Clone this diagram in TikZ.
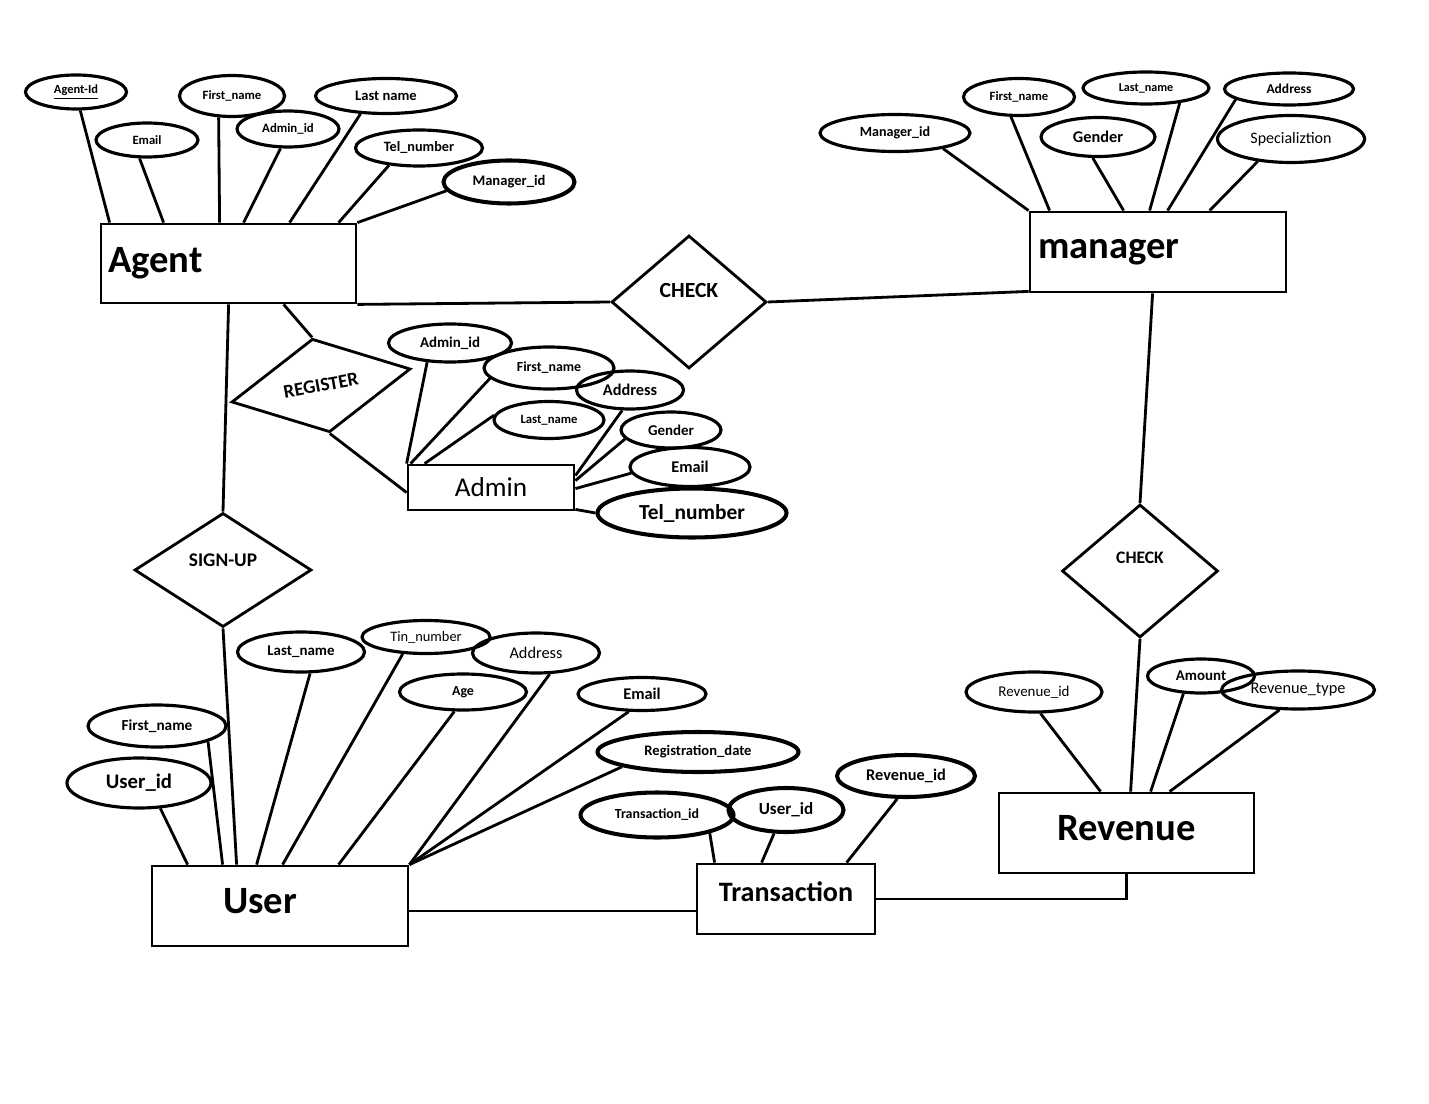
\documentclass[tikz,border=0pt]{standalone}
\usepackage{fontspec}
\setmainfont{Carlito}
\usetikzlibrary{shapes.geometric,calc}
\newcommand{\fsz}[1]{\fontsize{#1}{#1}\selectfont}
\tikzset{sz/.style 2 args={minimum width=#1*0.02cm,minimum height=#2*0.02cm}}
\begin{document}
\begin{tikzpicture}[x=0.02cm,y=-0.02cm,line width=1.6pt]
    \tikzstyle{attr}=[ellipse,draw,line width=1.8pt,inner sep=0pt,font=\bfseries]
    \tikzstyle{attrb}=[attr,line width=2.3pt]
    \tikzstyle{entity}=[rectangle,draw,inner sep=0pt,font=\bfseries]
    \tikzstyle{rel}=[diamond,draw,inner sep=0pt,font=\bfseries]
    \useasboundingbox (0,0) rectangle (1429,1104);
    % entities
    \node[entity,sz={255}{79},align=left,inner xsep=0.14cm,text width=4.82cm] (agent) at (228.5,263.5) {\fsz{22}Agent};
    \node[entity,sz={256}{80},align=left,inner xsep=0.16cm,text width=4.8cm] (manager) at (1158,252) {\fsz{22}manager};
    \node[entity,sz={256}{80},align=left,inner xsep=1.42cm,text width=2.28cm,text depth=5.7pt] (user) at (280,906) {\fsz{22}User};
    \node[entity,sz={255}{80},text depth=5.7pt] (revenue) at (1126.5,833) {\fsz{22}Revenue};
    \node[entity,sz={178}{70},text depth=8pt] (trans) at (786,899) {\fsz{16}Transaction};
    \node[entity,sz={166}{45},font=\mdseries] (admin) at (491,487.5) {\fsz{15.5}Admin};
    % relationships
    \node[rel,sz={155}{133},text depth=13.6pt] (check1) at (689,302) {\fsz{12.3}CHECK};
    \node[rel,sz={156}{133},text depth=14.7pt] (check2) at (1140,571) {\fsz{10}CHECK};
    \node[rel,sz={177}{114},text depth=11.3pt] (signup) at (223,570) {\fsz{11}SIGN-UP};
    \node[rel,sz={182}{95},rotate=10.5] (register) at (321,385.5) {\fsz{10.9}REGISTER};
    % agent attributes
    \node[attr,sz={101}{34}] (agid) at (76,92) {\fsz{7.1}\underline{Agent-Id}};
    \node[attr,sz={102}{34}] (agemail) at (147,140) {\fsz{7.2}Email};
    \node[attr,sz={105}{41}] (agfname) at (232,96) {\fsz{7.2}First\_name};
    \node[attr,sz={102}{36}] (agadmin) at (288,129) {\fsz{7.3}Admin\_id};
    \node[attr,sz={141}{35}] (aglname) at (386,96) {\fsz{8.3}Last name};
    \node[attr,sz={127}{36}] (agtel) at (419,148) {\fsz{8.1}Tel\_number};
    \node[attrb,sz={131}{43}] (agmgr) at (509,182) {\fsz{8.3}Manager\_id};
    % manager attributes
    \node[attr,sz={150}{37}] (mgid) at (895,133) {\fsz{8}Manager\_id};
    \node[attr,sz={111}{37}] (mgfname) at (1019,97) {\fsz{7.2}First\_name};
    \node[attr,sz={126}{32}] (mglname) at (1146,88) {\fsz{6.9}Last\_name};
    \node[attr,sz={129}{32}] (mgaddr) at (1289,89) {\fsz{7.7}Address};
    \node[attr,sz={114}{39}] (mggender) at (1098,137) {\fsz{9.3}Gender};
    \node[attr,sz={147}{47}] (mgspec) at (1291,139) {\fsz{9.1}\mdseries Specializtion};
    % admin attributes
    \node[attr,sz={123}{38}] (adid) at (450,343) {\fsz{8.5}Admin\_id};
    \node[attr,sz={130}{42}] (adfname) at (549,368) {\fsz{7.9}First\_name};
    \node[attr,sz={107}{38}] (adaddr) at (630,390) {\fsz{9.3}Address};
    \node[attr,sz={110}{37}] (adlname) at (549,420) {\fsz{7.2}Last\_name};
    \node[attr,sz={100}{36}] (adgender) at (671,430) {\fsz{8.5}Gender};
    \node[attr,sz={120}{39}] (ademail) at (690,467) {\fsz{9.3}Email};
    \node[attrb,sz={189}{49}] (adtel) at (692,513) {\fsz{12.2}Tel\_number};
    % user attributes
    \node[attr,sz={127}{40}] (ulname) at (301,652) {\fsz{8.5}Last\_name};
    \node[attr,sz={128}{33}] (utin) at (426,637) {\fsz{8.2}\mdseries Tin\_number};
    \node[attr,sz={127}{40}] (uaddr) at (536,653) {\fsz{9.3}\mdseries Address};
    \node[attr,sz={127}{36}] (uage) at (463,692) {\fsz{7.9}Age};
    \node[attr,sz={128}{33}] (uemail) at (642,694) {\fsz{9.3}Email};
    \node[attr,sz={138}{42}] (ufname) at (157,726) {\fsz{8.7}First\_name};
    \node[attr,sz={144}{50}] (uid) at (139,783) {\fsz{11.8}User\_id};
    \node[attrb,sz={201}{40}] (uregd) at (698,752) {\fsz{8.3}Registration\_date};
    % transaction attributes
    \node[attrb,sz={153}{45}] (tid) at (657,815) {\fsz{7.9}Transaction\_id};
    \node[attrb,sz={115}{44}] (tuid) at (786,810) {\fsz{9.7}User\_id};
    \node[attrb,sz={138}{42}] (trevid) at (906,776) {\fsz{9.3}Revenue\_id};
    % revenue attributes
    \node[attr,sz={136}{40}] (rvid) at (1034,692) {\fsz{8.5}\mdseries Revenue\_id};
    \node[attr,sz={107}{34}] (ramount) at (1201,676) {\fsz{8.5}Amount};
    \node[attr,sz={153}{38}] (rtype) at (1298,690) {\fsz{9.3}\mdseries Revenue\_type};

    % agent links
    \draw (agid.-77) -- ($(agent.north west)+(10,0)$);
    \draw (agemail.248) -- ($(agent.north west)+(64,0)$);
    \draw (agfname.238) -- ($(agent.north west)+(120,0)$);
    \draw (agadmin.249) -- ($(agent.north west)+(144,0)$);
    \draw (aglname.215) -- ($(agent.north west)+(190,0)$);
    \draw (agtel.210) -- ($(agent.north west)+(239,0)$);
    \draw (agmgr.188) -- (agent.north east);
    \draw (agent.south east) -- (check1.west);
    \draw (check1.east) -- ($(manager.south west)+(0,-2)$);
    \draw ($(agent.south west)+(184,0)$) -- (register.north);
    \draw (register.south) -- ($(admin.west)+(0,5)$);
    \draw ($(agent.south west)+(129,0)$) -- (signup.north);
    \draw (signup.south) -- ($(user.north west)+(86,0)$);
    % manager links
    \draw (mgid.-18) -- (manager.north west);
    \draw (mgfname.248) -- ($(manager.north west)+(21,0)$);
    \draw (mggender.256) -- ($(manager.north west)+(95,0)$);
    \draw (mglname.-24) -- ($(manager.north west)+(121,0)$);
    \draw (mgaddr.191) -- ($(manager.north west)+(139,0)$);
    \draw (mgspec.214) -- ($(manager.north west)+(181,0)$);
    \draw ($(manager.south west)+(124,0)$) -- (check2.north);
    \draw (check2.south) -- ($(revenue.north west)+(133,0)$);
    % admin links
    \draw (adid.220) -- (admin.north west);
    \draw (adfname.190) -- ($(admin.north west)+(4,0)$);
    \draw (adlname.175) -- ($(admin.north west)+(18,0)$);
    \draw (adaddr.249) -- ($(admin.north east)+(0,12)$);
    \draw (adgender.191) -- ($(admin.north east)+(0,17)$);
    \draw (ademail.186) -- ($(admin.north east)+(0,25)$);
    \draw (adtel.180) -- ($(admin.south east)+(0,-2)$);
    % user links
    \draw (uid.-50) -- ($(user.north west)+(37,0)$);
    \draw (ufname.-17) -- ($(user.north west)+(72,0)$);
    \draw (ulname.-67) -- ($(user.north west)+(106,0)$);
    \draw (utin.216) -- ($(user.north west)+(132,0)$);
    \draw (uage.246) -- ($(user.north west)+(188,0)$);
    \draw (uaddr.-57) -- (user.north east);
    \draw (uemail.233) -- (user.north east);
    \draw (uregd.191) -- (user.north east);
    \draw ($(user.east)+(0,5)$) -- ($(trans.west)+(0,12)$);
    % transaction and revenue links
    \draw (tid.-19) -- ($(trans.north west)+(19,0)$);
    \draw (tuid.243) -- ($(trans.north west)+(66,0)$);
    \draw (trevid.249) -- ($(trans.north west)+(151,0)$);
    \draw (trans.east) -| (revenue.south);
    \draw (rvid.-73) -- ($(revenue.north west)+(103,0)$);
    \draw (ramount.225) -- ($(revenue.north west)+(153,0)$);
    \draw (rtype.227) -- ($(revenue.north west)+(172,0)$);
\end{tikzpicture}
\end{document}
